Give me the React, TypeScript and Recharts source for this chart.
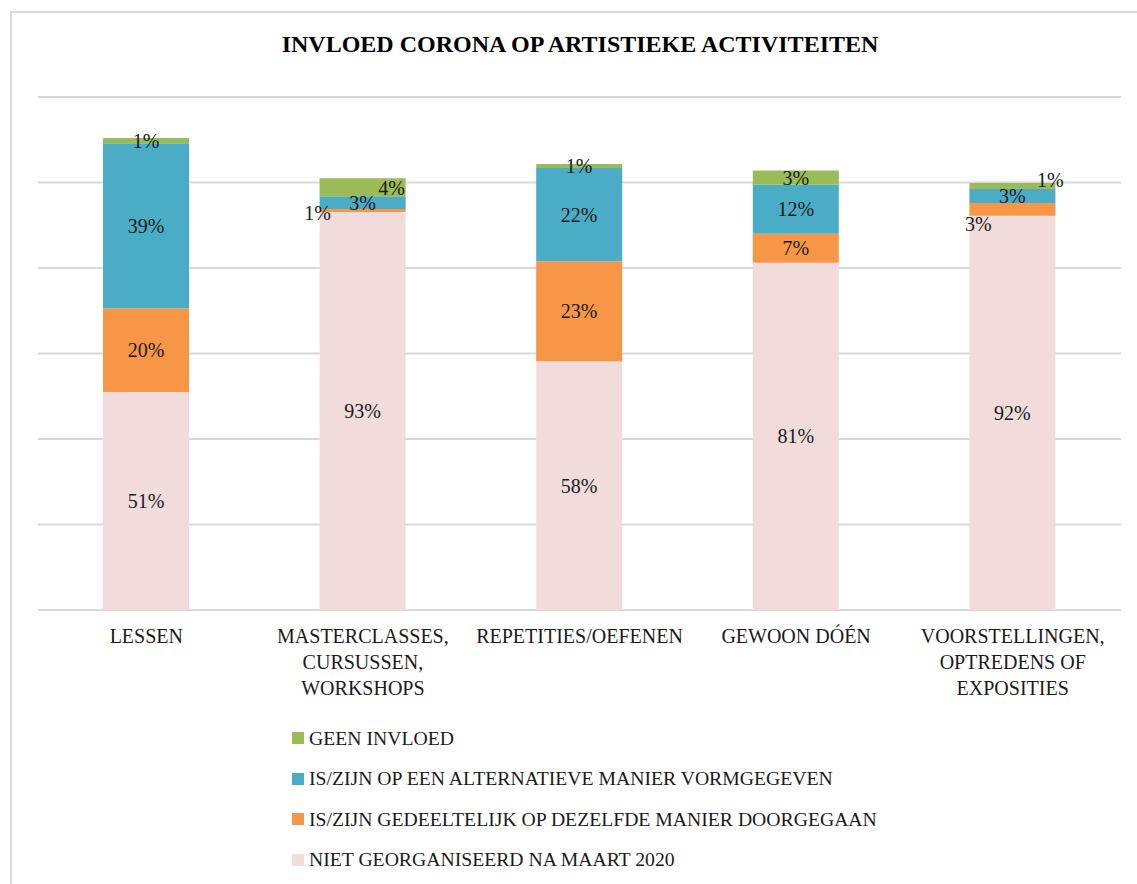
import { BarChart, Bar, XAxis, YAxis, CartesianGrid, LabelList } from 'recharts';

const FONT = '"Liberation Serif", "Times New Roman", serif';

const categories = ['LESSEN', 'MASTERCLASSES', 'REPETITIES', 'GEWOON', 'VOORSTELLINGEN'];
const tickLines = [
  ['LESSEN'],
  ['MASTERCLASSES,', 'CURSUSSEN,', 'WORKSHOPS'],
  ['REPETITIES/OEFENEN'],
  ['GEWOON DÓÉN'],
  ['VOORSTELLINGEN,', 'OPTREDENS OF', 'EXPOSITIES'],
];

const nietGeorganiseerd = [51.0, 93.1, 58.2, 81.2, 92.2];
const gedeeltelijk = [19.6, 0.7, 23.4, 6.8, 3.0];
const alternatief = [38.6, 3.0, 21.8, 11.5, 3.3];
const geenInvloed = [1.2, 4.2, 0.9, 3.3, 1.4];

const yTicks = [0, 20, 40, 60, 80, 100, 120];

const SERIES = [
  { key: 'niet', name: 'NIET GEORGANISEERD NA MAART 2020', color: '#F2DCDB' },
  { key: 'gedeeltelijk', name: 'IS/ZIJN GEDEELTELIJK OP DEZELFDE MANIER DOORGEGAAN', color: '#F79646' },
  { key: 'alternatief', name: 'IS/ZIJN OP EEN ALTERNATIEVE MANIER VORMGEGEVEN', color: '#4BACC6' },
  { key: 'geen', name: 'GEEN INVLOED', color: '#9BBB59' },
];

// label nudges (dx, dy) for the few labels Excel moved by hand
const labelNudge: Record<string, Record<number, [number, number]>> = {
  gedeeltelijk: { 1: [-45, 2], 4: [-34, 15] },
  geen: { 1: [29, 1], 4: [38, -6] },
};

const data = categories.map((c, i) => ({
  name: c,
  niet: nietGeorganiseerd[i],
  gedeeltelijk: gedeeltelijk[i],
  alternatief: alternatief[i],
  geen: geenInvloed[i],
}));

function makeLabel(seriesKey: string) {
  return (props: any) => {
    const { x, y, width, height, value, index } = props;
    const [dx, dy] = labelNudge[seriesKey]?.[index] ?? [0, 0];
    return (
      <text
        x={x + width / 2 + dx}
        y={y + height / 2 + dy}
        textAnchor="middle"
        dominantBaseline="central"
        style={{ fontFamily: FONT }}
        fontSize={20}
        fill="#1a1a1a"
      >
        {Math.round(value)}%
      </text>
    );
  };
}

function CategoryTick(props: any) {
  const { x, y, index } = props;
  const lines = tickLines[index] || [];
  return (
    <text x={x} y={y + 25} textAnchor="middle" style={{ fontFamily: FONT }} fontSize={20} fill="#1a1a1a">
      {lines.map((l, i) => (
        <tspan key={i} x={x} dy={i === 0 ? 0 : 26}>
          {l}
        </tspan>
      ))}
    </text>
  );
}

export default function App() {
  return (
    <div style={{ position: 'absolute', left: 0, top: 0, width: 1137, height: 884, background: '#fff', overflow: 'hidden' }}>
      <div
        style={{
          position: 'absolute',
          left: 10,
          top: 11,
          width: 1160,
          height: 900,
          border: '2px solid #d9d9d9',
          boxSizing: 'border-box',
        }}
      />
      <div
        style={{
          position: 'absolute',
          left: 0,
          width: 1160,
          top: 31,
          textAlign: 'center',
          fontFamily: FONT,
          fontWeight: 'bold',
          fontSize: 24,
          color: '#000',
        }}
      >
        INVLOED CORONA OP ARTISTIEKE ACTIVITEITEN
      </div>
      <div style={{ position: 'absolute', left: 0, top: 0 }}>
        <BarChart width={1137} height={884} data={data} margin={{ top: 97, right: 16, bottom: 244, left: 38 }}>
          <CartesianGrid vertical={false} stroke="#d9d9d9" strokeWidth={2} />
          <YAxis hide domain={[0, 120]} ticks={yTicks} />
          <XAxis dataKey="name" height={30} axisLine={false} tickLine={false} tick={<CategoryTick />} interval={0} />
          {SERIES.map((s) => (
            <Bar key={s.key} dataKey={s.key} stackId="a" fill={s.color} barSize={86} isAnimationActive={false}>
              <LabelList dataKey={s.key} content={makeLabel(s.key)} />
            </Bar>
          ))}
        </BarChart>
      </div>
      {SERIES.slice()
        .reverse()
        .map((s, i) => (
          <div
            key={s.key}
            style={{
              position: 'absolute',
              left: 292,
              top: 725 + i * 40.5,
              height: 26,
              display: 'flex',
              alignItems: 'center',
              fontFamily: FONT,
              fontSize: 19.7,
              color: '#1a1a1a',
              whiteSpace: 'nowrap',
            }}
          >
            <span style={{ width: 12, height: 12, background: s.color, display: 'inline-block', marginRight: 5 }} />
            {s.name}
          </div>
        ))}
    </div>
  );
}
